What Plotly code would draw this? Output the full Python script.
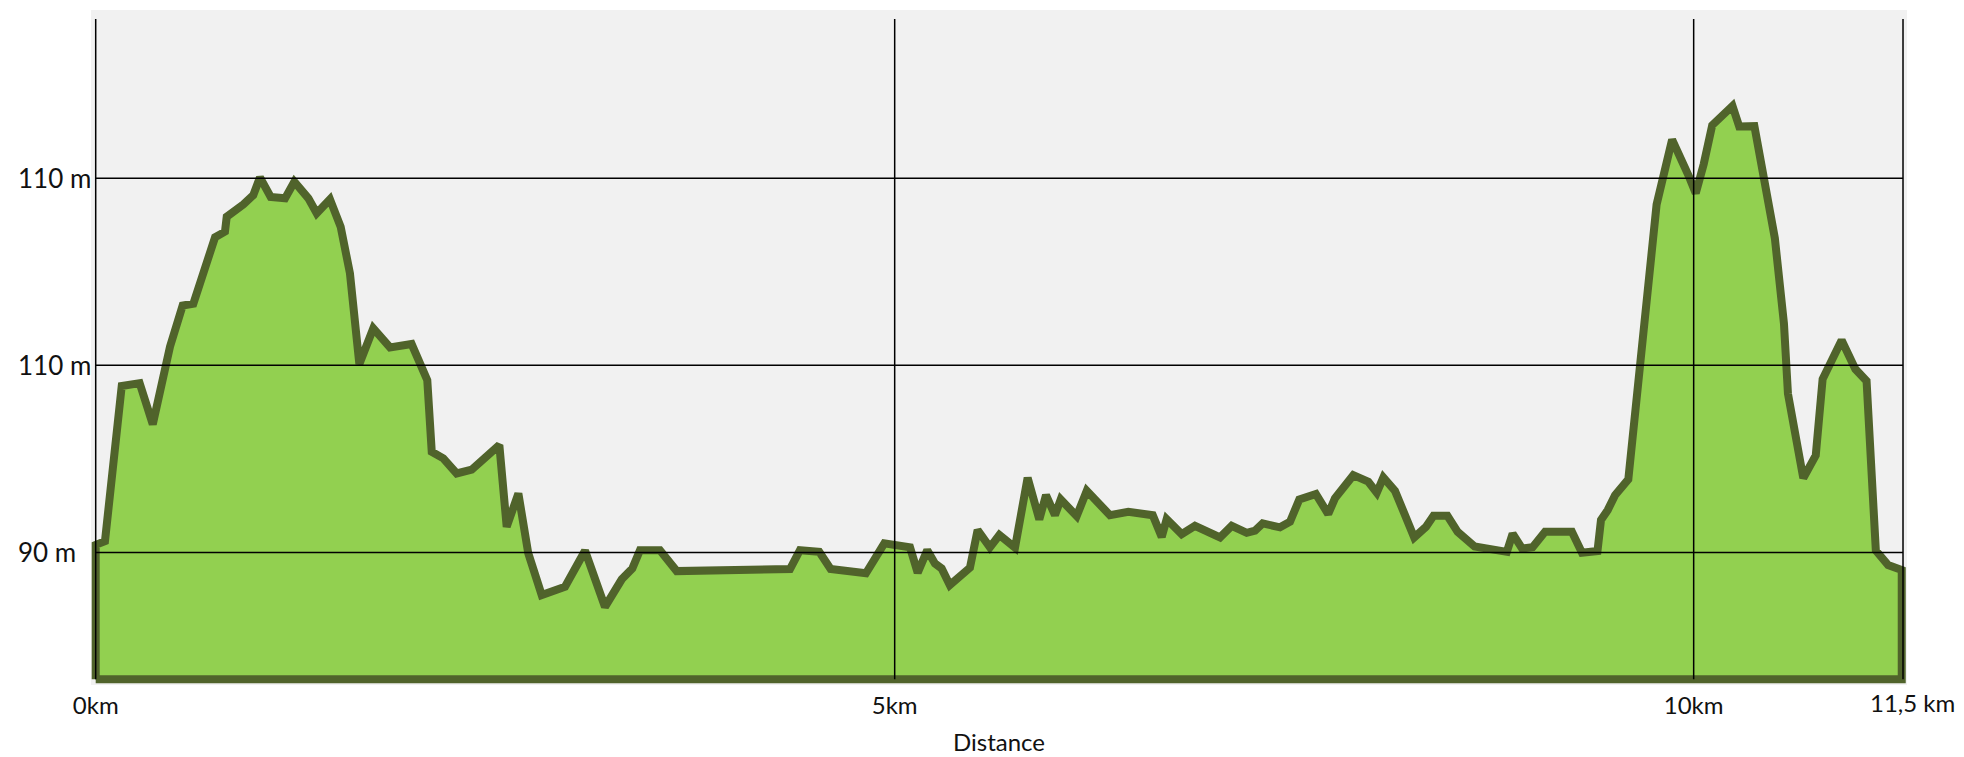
import plotly.graph_objects as go

# ---- data ----
distance_km = [
    0.000, 0.058, 0.163, 0.275, 0.357, 0.465, 0.544, 0.611, 0.747, 0.809,
    0.820, 0.924, 0.986, 1.028, 1.095, 1.185, 1.243, 1.331, 1.383, 1.466,
    1.533, 1.591, 1.650, 1.737, 1.842, 1.977, 2.075, 2.103, 2.175, 2.259,
    2.353, 2.526, 2.572, 2.645, 2.707, 2.791, 2.937, 3.062, 3.187, 3.292,
    3.358, 3.406, 3.531, 3.636, 4.345, 4.407, 4.528, 4.599, 4.820, 4.935,
    5.096, 5.144, 5.204, 5.252, 5.294, 5.345, 5.471, 5.519, 5.596, 5.655,
    5.753, 5.832, 5.905, 5.947, 6.003, 6.039, 6.139, 6.202, 6.347, 6.462,
    6.615, 6.671, 6.702, 6.796, 6.879, 7.036, 7.109, 7.203, 7.255, 7.303,
    7.411, 7.474, 7.532, 7.636, 7.713, 7.755, 7.870, 7.964, 8.017, 8.058,
    8.131, 8.251, 8.325, 8.372, 8.459, 8.523, 8.629, 8.831, 8.867, 8.926,
    8.992, 9.070, 9.238, 9.301, 9.398, 9.420, 9.462, 9.508, 9.591, 9.768,
    9.865, 9.968, 10.013, 10.063, 10.116, 10.243, 10.285, 10.380, 10.508, 10.565,
    10.590, 10.686, 10.764, 10.807, 10.926, 11.012, 11.082, 11.140, 11.217, 11.302,
]
elevation_m = [
    90.40, 90.60, 98.90, 99.05, 96.85, 101.00, 103.20, 103.30, 106.85, 107.15,
    107.95, 108.60, 109.10, 110.05, 109.00, 108.93, 109.82, 108.93, 108.13, 108.88,
    107.41, 104.92, 100.07, 101.98, 100.96, 101.14, 99.21, 95.38, 95.03, 94.22,
    94.42, 95.74, 91.37, 93.15, 89.95, 87.72, 88.16, 90.09, 87.09, 88.56,
    89.14, 90.12, 90.12, 89.00, 89.11, 90.12, 90.03, 89.11, 88.88, 90.48,
    90.27, 88.91, 90.12, 89.41, 89.14, 88.25, 89.18, 91.19, 90.27, 90.93,
    90.25, 93.99, 91.76, 93.06, 91.99, 92.83, 91.94, 93.29, 91.99, 92.17,
    91.99, 90.83, 91.78, 90.98, 91.42, 90.80, 91.42, 91.05, 91.16, 91.55,
    91.34, 91.64, 92.83, 93.12, 92.05, 92.89, 94.13, 93.78, 93.19, 94.01,
    93.29, 90.80, 91.37, 91.96, 91.96, 91.10, 90.32, 90.03, 91.00, 90.21,
    90.28, 91.10, 91.10, 89.98, 90.07, 91.73, 92.26, 93.06, 93.90, 108.60,
    112.07, 110.15, 109.20, 110.77, 112.84, 113.87, 112.77, 112.79, 106.80, 102.24,
    98.49, 93.97, 95.19, 99.27, 101.34, 99.80, 99.17, 90.10, 89.32, 89.06,
]
baseline_m = 83.22
route_end_km = 11.31
grid_top_m = 118.52

elev_grid_values = [90, 100, 110]
elev_grid_labels = ["90 m", "110 m", "110 m"]
dist_tick_values = [0, 5, 10]
dist_tick_labels = ["0km", "5km", "10km"]
end_label = "11,5 km"
x_title = "Distance"

FONT = "Lato, 'DejaVu Sans', sans-serif"
FILL = "#92d050"
EDGE = "#50632b"
GRID = "#000000"

# closed profile polygon (baseline -> profile -> baseline)
poly_x = [distance_km[0]] + distance_km + [distance_km[-1], distance_km[0]]
poly_y = [baseline_m] + elevation_m + [baseline_m, baseline_m]

fig = go.Figure()
fig.add_trace(go.Scatter(
    x=poly_x, y=poly_y, mode="lines", fill="toself", fillcolor=FILL,
    line=dict(color=EDGE, width=8), hoverinfo="skip", showlegend=False,
))

shapes = []
for v in elev_grid_values:
    shapes.append(dict(type="line", xref="x", yref="y", x0=0, x1=route_end_km,
                       y0=v, y1=v, line=dict(color=GRID, width=1.5), layer="above"))
for v in [0, 5, 10, route_end_km]:
    shapes.append(dict(type="line", xref="x", yref="y", x0=v, x1=v,
                       y0=baseline_m, y1=grid_top_m, line=dict(color=GRID, width=1.5),
                       layer="above"))

annotations = []
for v, t in zip(elev_grid_values, elev_grid_labels):
    annotations.append(dict(x=-0.0413, xref="paper", y=v, yref="y", text=t,
                            showarrow=False, xanchor="left", yanchor="middle",
                            font=dict(family=FONT, size=26, color="#111111")))
annotations.append(dict(x=1.0276, xref="paper", y=-0.026, yref="paper",
                        text=end_label, showarrow=False, xanchor="right",
                        yanchor="middle",
                        font=dict(family=FONT, size=24, color="#111111")))

fig.update_layout(
    width=1964, height=757,
    margin=dict(l=83, r=65, t=2, b=80),
    paper_bgcolor="white", plot_bgcolor="#f1f1f1",
    shapes=shapes, annotations=annotations,
    font=dict(family=FONT, size=24, color="#111111"),
    xaxis=dict(range=[-0.0294, 11.335], showgrid=False, zeroline=False,
               showline=False, ticks="", tickvals=dist_tick_values,
               ticktext=dist_tick_labels, tickfont=dict(size=24),
               ticklabelstandoff=4,
               title=dict(text=x_title, font=dict(size=24), standoff=16)),
    yaxis=dict(range=[82.91, 119.0], showgrid=False, zeroline=False,
               showline=False, showticklabels=False, ticks=""),
)

fig.write_html("out.html")
